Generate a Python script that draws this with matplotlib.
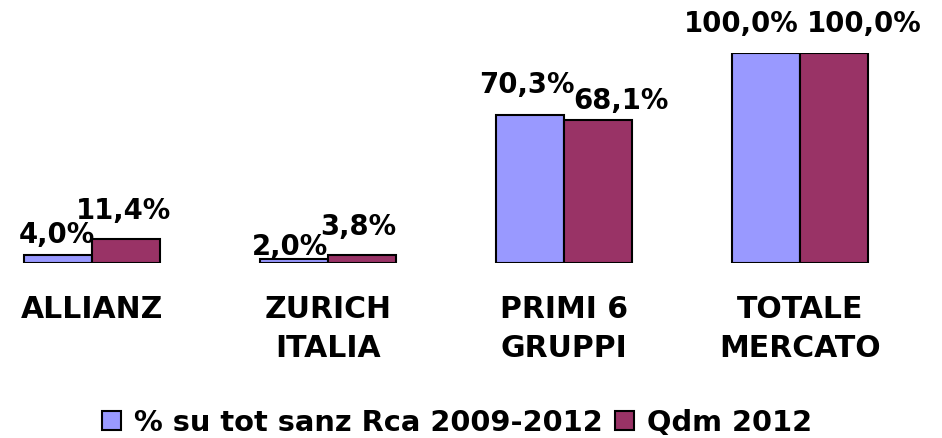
import numpy as np
import matplotlib.pyplot as plt
from matplotlib.patches import Patch

# data
categories = ["ALLIANZ", "ZURICH\nITALIA", "PRIMI 6\nGRUPPI", "TOTALE\nMERCATO"]
series_names = ["% su tot sanz Rca 2009-2012", "Qdm 2012"]
sanz = [4.0, 2.0, 70.3, 100.0]
qdm = [11.4, 3.8, 68.1, 100.0]

colors = ["#9999FF", "#993366"]

# small nudges (pixels) for the value labels, as the original layout moved them
# (dx, dy above bar top)
lab_off = [
    [(-1, 12), (-4, 4), (-3, 22), (-25, 21)],
    [(-2, 20), (-4, 20), (23, 11), (30, 21)],
]

fig = plt.figure(figsize=(9.42, 4.38), dpi=100)
ax = fig.add_axes([0, 175 / 438, 1, 210 / 438])

x = np.arange(len(categories))
w = 0.288
for i, vals in enumerate([sanz, qdm]):
    b = ax.bar(x + (i - 0.5) * w, vals, w, color=colors[i], edgecolor="black",
               linewidth=1.5, label=series_names[i])
    for j, rect in enumerate(b):
        dx, dy = lab_off[i][j]
        ax.annotate(f"{vals[j]:.1f}%".replace(".", ","),
                    (rect.get_x() + rect.get_width() / 2, rect.get_height()),
                    xytext=(dx * 0.72, dy * 0.72), textcoords="offset points",
                    ha="center", va="baseline", fontsize=19.8, fontweight="bold",
                    family="DejaVu Sans", annotation_clip=False)

ax.set_xlim(-92 / 236, (942 - 92) / 236)
ax.set_ylim(0, 100)
ax.set_xticks(x, categories)
ax.tick_params(axis="x", length=0, pad=23, labelsize=21.5)
for t in ax.get_xticklabels():
    t.set_fontweight("bold")
    t.set_linespacing(1.45)
ax.set_yticks([])
for s in ax.spines.values():
    s.set_visible(False)

handles = [Patch(facecolor=c, edgecolor="black", linewidth=1.5) for c in colors]
fig.legend(handles, series_names, loc="center", bbox_to_anchor=(457 / 942, 1 - 423 / 438),
           ncol=2, frameon=False, handlelength=0.65, handleheight=0.65,
           handletextpad=0.45, columnspacing=0.45,
           prop={"weight": "bold", "size": 20.8})

fig.savefig("out.png", dpi=100)
